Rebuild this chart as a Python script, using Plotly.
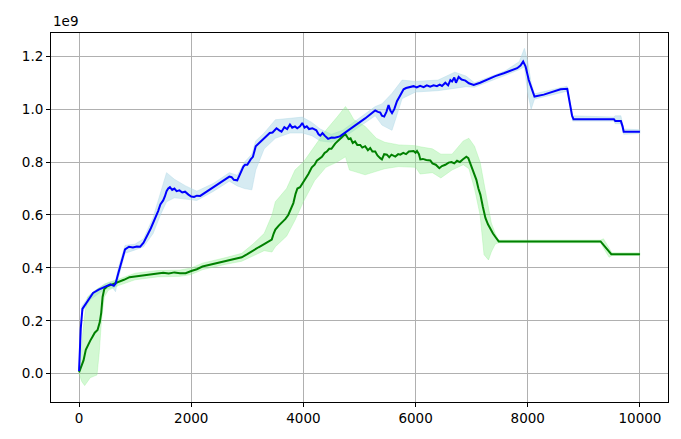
import plotly.graph_objects as go

# ---- data (values in units of 1e9) ----
blue_x = [0, 30, 60, 120, 200, 250, 350, 460, 560, 620, 650, 700, 760, 820, 890, 960, 1030, 1090,
          1150, 1200, 1240, 1280, 1320, 1370, 1410, 1450, 1500, 1530, 1560, 1590, 1620, 1660, 1700,
          1740, 1790, 1840, 1890, 1950, 2000, 2050, 2100, 2160, 2250, 2400, 2550, 2680, 2720, 2760,
          2820, 2870, 2930, 2960, 3000, 3060, 3100, 3150, 3200, 3280, 3340, 3400, 3450, 3520, 3570,
          3610, 3660, 3710, 3760, 3800, 3850, 3890, 3940, 3980, 4020, 4060, 4100, 4160, 4230, 4270,
          4300, 4340, 4380, 4440, 4500, 4560, 4650, 4700, 4893, 5100, 5280, 5330, 5370, 5400, 5440,
          5480, 5518, 5550, 5580, 5620, 5668, 5720, 5786, 5830, 5900, 5964, 6020, 6080, 6143, 6200,
          6260, 6321, 6380, 6430, 6471, 6530, 6580, 6620, 6650, 6690, 6720, 6768, 6820, 6888, 6950,
          7036, 7150, 7275, 7420, 7571, 7700, 7811, 7870, 7918, 7960, 7990, 8018, 8050, 8080, 8120,
          8286, 8450, 8584, 8704, 8735, 8763, 8790, 8815, 9536, 9560, 9660, 9690, 9710, 10000]
blue_y = [0.01, 0.17, 0.245, 0.265, 0.29, 0.305, 0.318, 0.33, 0.338, 0.332, 0.34, 0.38, 0.43, 0.47,
          0.48, 0.477, 0.481, 0.48, 0.495, 0.52, 0.533, 0.55, 0.57, 0.59, 0.615, 0.64, 0.655, 0.67,
          0.69, 0.7, 0.705, 0.695, 0.7, 0.69, 0.693, 0.685, 0.688, 0.677, 0.67, 0.668, 0.673, 0.672,
          0.685, 0.705, 0.727, 0.745, 0.743, 0.733, 0.731, 0.755, 0.783, 0.79, 0.79, 0.81, 0.82, 0.86,
          0.87, 0.885, 0.9, 0.91, 0.912, 0.928, 0.92, 0.915, 0.932, 0.925, 0.942, 0.93, 0.935, 0.928,
          0.935, 0.948, 0.93, 0.935, 0.925, 0.928, 0.92, 0.905, 0.9, 0.91, 0.9, 0.888, 0.893, 0.892,
          0.897, 0.905, 0.934, 0.965, 0.995, 0.99, 0.987, 0.975, 0.972, 0.99, 1.016, 0.995, 0.985,
          1.0, 1.03, 1.05, 1.075, 1.08, 1.083, 1.087, 1.082, 1.088, 1.083, 1.09, 1.085, 1.09, 1.087,
          1.093, 1.088, 1.1, 1.09, 1.11, 1.105, 1.12, 1.1, 1.122, 1.112, 1.108, 1.098, 1.092, 1.1,
          1.113, 1.125, 1.136, 1.146, 1.155, 1.165, 1.18, 1.162, 1.13, 1.11, 1.09, 1.075, 1.048,
          1.055, 1.065, 1.075, 1.077, 1.04, 1.01, 0.975, 0.962, 0.962, 0.955, 0.955, 0.935, 0.915,
          0.915]

blue_band_x = [0, 50, 200, 460, 600, 650, 700, 820, 1000, 1150, 1320, 1450, 1560, 1700, 1900, 2100,
               2400, 2680, 2820, 2950, 3080, 3150, 3300, 3500, 3760, 3980, 4150, 4300, 4500, 4700,
               5280, 5400, 5580, 5760, 6000, 6400, 6700, 6900, 7050, 7600, 7850, 7940, 8000, 8060,
               8120, 8700, 8800, 9530, 9560, 9660, 9710, 10000]
blue_band_lo = [0.005, 0.23, 0.28, 0.32, 0.325, 0.31, 0.36, 0.455, 0.468, 0.48, 0.53, 0.6, 0.65,
                0.665, 0.66, 0.655, 0.69, 0.728, 0.71, 0.7, 0.695, 0.77, 0.85, 0.89, 0.91, 0.91,
                0.9, 0.88, 0.875, 0.89, 0.975, 0.94, 0.92, 1.04, 1.065, 1.07, 1.08, 1.085, 1.083,
                1.128, 1.15, 1.16, 1.06, 1.0, 1.038, 1.068, 0.955, 0.955, 0.945, 0.945, 0.905, 0.908]
blue_band_hi = [0.02, 0.255, 0.3, 0.34, 0.348, 0.35, 0.4, 0.485, 0.49, 0.51, 0.59, 0.68, 0.76,
                0.735, 0.71, 0.69, 0.72, 0.76, 0.75, 0.8, 0.83, 0.88, 0.91, 0.96, 0.965, 0.97, 0.95,
                0.925, 0.905, 0.92, 1.01, 1.02, 1.06, 1.11, 1.105, 1.11, 1.14, 1.125, 1.1, 1.145,
                1.18, 1.23, 1.18, 1.1, 1.058, 1.087, 0.975, 0.97, 0.975, 0.975, 0.925, 0.922]

green_x = [0, 40, 80, 120, 160, 200, 240, 280, 330, 370, 395, 420, 450, 500, 560, 620, 700, 800,
           900, 1000, 1200, 1400, 1500, 1600, 1700, 1800, 1900, 2000, 2100, 2200, 2300, 2400, 2500,
           2600, 2700, 2800, 2900, 3000, 3100, 3200, 3300, 3436, 3470, 3500, 3560, 3620, 3680, 3730,
           3780, 3821, 3860, 3893, 3940, 3971, 4030, 4089, 4150, 4200, 4239, 4290, 4330, 4380, 4418,
           4460, 4500, 4566, 4620, 4680, 4745, 4770, 4804, 4840, 4880, 4920, 4960, 5013, 5050, 5100,
           5150, 5191, 5230, 5280, 5320, 5370, 5400, 5440, 5489, 5530, 5570, 5638, 5690, 5727, 5780,
           5830, 5880, 5964, 6000, 6025, 6060, 6084, 6130, 6190, 6263, 6300, 6360, 6423, 6470, 6530,
           6589, 6640, 6690, 6739, 6790, 6840, 6905, 6940, 6977, 7030, 7084, 7120, 7155, 7200, 7245,
           7290, 7334, 7380, 7430, 7482, 9298, 9400, 9489, 10000]
green_y = [0.005, 0.03, 0.05, 0.09, 0.11, 0.125, 0.14, 0.155, 0.165, 0.195, 0.23, 0.29, 0.32, 0.33,
           0.335, 0.34, 0.345, 0.355, 0.365, 0.368, 0.373, 0.378, 0.382, 0.379, 0.383, 0.38, 0.38,
           0.388, 0.395, 0.405, 0.41, 0.415, 0.42, 0.425, 0.43, 0.433, 0.44, 0.452, 0.466, 0.478,
           0.49, 0.507, 0.53, 0.545, 0.56, 0.572, 0.585, 0.6, 0.625, 0.645, 0.68, 0.7, 0.705, 0.715,
           0.735, 0.755, 0.78, 0.79, 0.805, 0.815, 0.82, 0.835, 0.84, 0.85, 0.85, 0.87, 0.88, 0.893,
           0.907, 0.9, 0.887, 0.89, 0.872, 0.878, 0.865, 0.865, 0.855, 0.86, 0.845, 0.853, 0.84,
           0.84, 0.825, 0.815, 0.81, 0.83, 0.828, 0.818, 0.828, 0.821, 0.83, 0.828, 0.835, 0.83,
           0.84, 0.842, 0.835, 0.842, 0.83, 0.81, 0.812, 0.808, 0.806, 0.795, 0.79, 0.777, 0.785,
           0.79, 0.798, 0.8, 0.795, 0.805, 0.8, 0.81, 0.82, 0.815, 0.795, 0.765, 0.733, 0.7, 0.677,
           0.63, 0.589, 0.565, 0.545, 0.53, 0.515, 0.5, 0.5, 0.475, 0.452, 0.452]

green_band_x = [0, 50, 100, 150, 200, 260, 320, 360, 400, 450, 520, 700, 1000, 1400, 1800, 2000,
                2200, 2600, 2900, 3100, 3300, 3440, 3500, 3700, 3850, 4000, 4200, 4400, 4600, 4750,
                4820, 4900, 5100, 5300, 5450, 5700, 6000, 6080, 6300, 6450, 6650, 6850, 6950, 7050,
                7150, 7220, 7300, 7350, 7420, 7480, 9300, 9350, 9450, 9500, 10000]
green_band_lo = [0.0, -0.03, -0.045, -0.03, -0.015, -0.01, -0.005, 0.08, 0.2, 0.29, 0.315, 0.333,
                 0.355, 0.366, 0.368, 0.375, 0.393, 0.413, 0.425, 0.445, 0.465, 0.46, 0.48, 0.52,
                 0.58, 0.65, 0.73, 0.78, 0.8, 0.82, 0.77, 0.765, 0.752, 0.765, 0.775, 0.783, 0.78,
                 0.755, 0.76, 0.74, 0.77, 0.79, 0.775, 0.7, 0.6, 0.45, 0.43, 0.46, 0.49, 0.495,
                 0.495, 0.475, 0.44, 0.447, 0.447]
green_band_hi = [0.02, 0.12, 0.22, 0.29, 0.3, 0.31, 0.32, 0.325, 0.33, 0.335, 0.345, 0.357, 0.38,
                 0.39, 0.392, 0.4, 0.418, 0.438, 0.455, 0.49, 0.53, 0.6, 0.65, 0.7, 0.77, 0.8,
                 0.86, 0.92, 0.97, 1.01, 0.99, 0.96, 0.935, 0.89, 0.875, 0.865, 0.862, 0.858, 0.85,
                 0.83, 0.83, 0.88, 0.89, 0.86, 0.8, 0.72, 0.63, 0.57, 0.53, 0.505, 0.505, 0.51,
                 0.475, 0.457, 0.457]

x_ticks = [0, 2000, 4000, 6000, 8000, 10000]
y_ticks = [0.0, 0.2, 0.4, 0.6, 0.8, 1.0, 1.2]

BLUE_FILL = "rgba(173,216,230,0.5)"
GREEN_FILL = "rgba(144,238,144,0.4)"


def band(x, lo, hi, fill):
    return go.Scatter(
        x=list(x) + list(x)[::-1], y=list(hi) + list(lo)[::-1],
        fill="toself", fillcolor=fill, line=dict(width=0.8, color=fill),
        mode="lines", hoverinfo="skip", showlegend=False)


fig = go.Figure()
fig.add_trace(band(blue_band_x, blue_band_lo, blue_band_hi, BLUE_FILL))
fig.add_trace(band(green_band_x, green_band_lo, green_band_hi, GREEN_FILL))
fig.add_trace(go.Scatter(x=green_x, y=green_y, mode="lines",
                         line=dict(color="#008000", width=2), showlegend=False))
fig.add_trace(go.Scatter(x=blue_x, y=blue_y, mode="lines",
                         line=dict(color="#0000ff", width=2), showlegend=False))

axis_common = dict(showline=True, linecolor="black", linewidth=1, mirror=True,
                   ticks="outside", ticklen=4, tickcolor="black", tickwidth=1,
                   showgrid=True, gridcolor="#b0b0b0", gridwidth=1, zeroline=False,
                   tickfont=dict(family="DejaVu Sans", size=13.5, color="black"))

# page body has an 8px default margin, so the figure is sized/offset to compensate
fig.update_layout(
    width=665, height=423,
    margin=dict(l=43, r=5, t=25, b=29, autoexpand=False),
    paper_bgcolor="white", plot_bgcolor="white",
    xaxis=dict(range=[-500, 10500], tickvals=x_ticks,
               ticktext=[str(v) for v in x_ticks], **axis_common),
    yaxis=dict(range=[-0.107, 1.288], tickvals=y_ticks,
               ticktext=[f"{v:.1f}" for v in y_ticks], **axis_common),
    annotations=[dict(text="1e9", xref="paper", yref="paper", x=0, y=1,
                      xanchor="left", yanchor="bottom", showarrow=False, yshift=2,
                      font=dict(family="DejaVu Sans", size=13.5, color="black"))],
)

fig.write_html("out.html")
